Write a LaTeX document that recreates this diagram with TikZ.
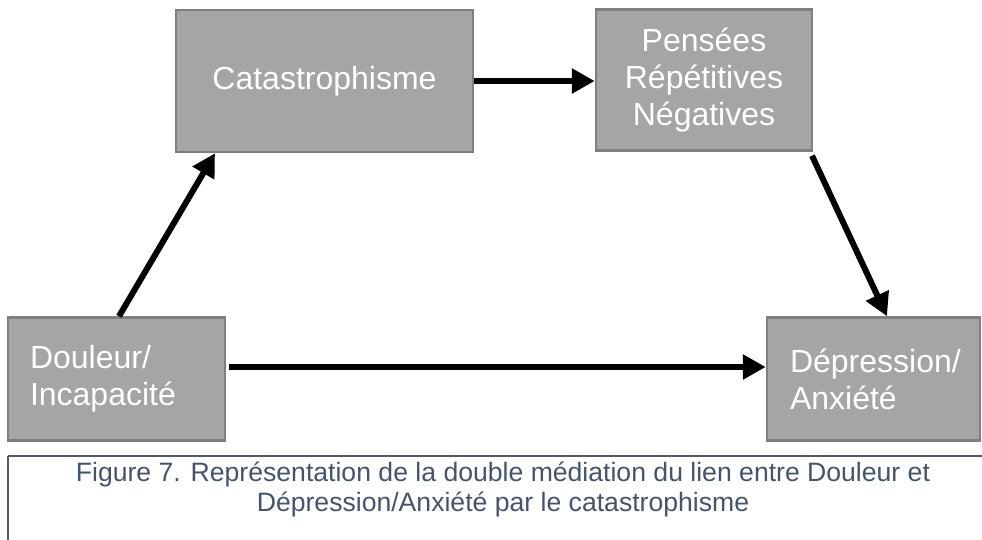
\documentclass[tikz,border=0pt]{standalone}
\usepackage{fontspec}
\setmainfont{Liberation Sans}
\usetikzlibrary{arrows.meta}
\definecolor{boxfill}{HTML}{A5A5A5}
\definecolor{boxline}{HTML}{7F7F7F}
\definecolor{captext}{HTML}{44546A}
\definecolor{capline}{HTML}{4F5B6B}
\tikzset{
  gbox/.style={draw=boxline, line width=2.5pt, fill=boxfill, text=white, inner sep=0pt,
    font=\fontsize{32}{37}\selectfont},
  link/.style={line width=6pt, -{Triangle[length=23pt,width=24pt]}},
}
\begin{document}
\begin{tikzpicture}[x=1pt,y=-1pt]
\useasboundingbox (0,0) rectangle (982,540);
\node[gbox, minimum width=297pt, minimum height=142pt] (cata) at (324.5,81) {Catastrophisme};
\node[gbox, minimum width=216pt, minimum height=141pt, align=center] (pens) at (704,80) {Pensées\\Répétitives\\Négatives};
\node[gbox, minimum height=123pt, text width=173pt, inner xsep=22pt, align=left] (doul) at (116.5,379) {Douleur/\\Incapacité};
\node[gbox, minimum height=123pt, text width=167pt, inner xsep=23pt, align=left] (dep) at (873.5,379) {Dépression/\\Anxiété};
\draw[link] (cata.east) -- (cata.east -| pens.west);
\draw[link] ([xshift=2.5pt]doul.north) -- ([xshift=-109.5pt]cata.south);
\draw[link] ([xshift=108pt,yshift=-4pt]pens.south) -- ([xshift=13.5pt]dep.north);
\draw[link] ([xshift=3pt,yshift=12pt]doul.east) -- ([yshift=12pt]dep.west);
\draw[capline, line width=1.5pt] (8,456) -- (1000,456) (8,456) -- (8,560);
\node[text=captext, align=center, inner sep=0pt, font=\fontsize{26.6}{30}\selectfont] (cap) at (503,489)
  {Figure 7. Représentation de la double médiation du lien entre Douleur et\\Dépression/Anxiété par le catastrophisme};
\end{tikzpicture}
\end{document}
